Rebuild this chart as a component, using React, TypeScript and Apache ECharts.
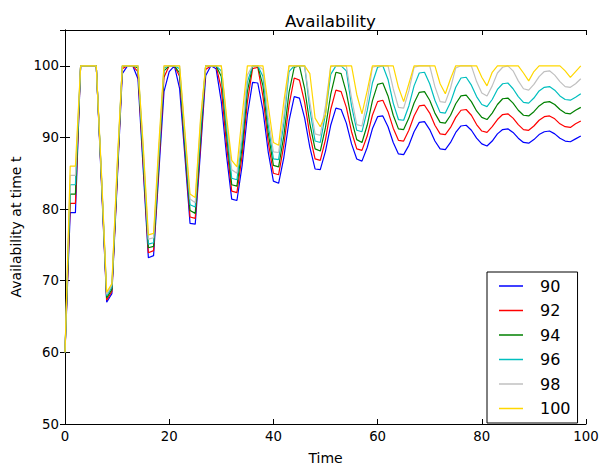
import React, { useEffect, useRef } from "react";
import * as echarts from "echarts";

const seriesNames = ["90", "92", "94", "96", "98", "100"];
const seriesColors = ["#0000ff", "#ff0000", "#008000", "#00bfbf", "#c0c0c0", "#ffd700"];
const xTicks = [0, 20, 40, 60, 80, 100];
const yTicks = [50, 60, 70, 80, 90, 100];

const time = Array.from({ length: 100 }, (_, i) => i);

const s90 = [
  60, 79.5, 79.5, 100, 100, 100, 100, 83.5, 67.0, 68.2,
  83.5, 98.9, 100, 100, 98.2, 85.7, 73.2, 73.5, 85.0, 96.4,
  99.2, 100, 96.8, 87.5, 78.0, 77.9, 88.0, 98.6, 100, 99.6,
  95.0, 87.5, 81.4, 81.2, 86.1, 93.1, 97.7, 97.6, 93.8, 88.0,
  83.9, 83.6, 87.2, 92.3, 95.7, 95.5, 92.7, 88.6, 85.6, 85.5,
  88.1, 91.7, 94.1, 93.9, 92.0, 89.1, 87.0, 86.7, 88.6, 91.2,
  92.9, 93.0, 91.5, 89.3, 87.7, 87.6, 88.9, 90.8, 92.1, 92.2,
  91.1, 89.5, 88.4, 88.3, 89.3, 90.7, 91.6, 91.7, 91.0, 89.9,
  89.1, 88.8, 89.5, 90.5, 91.1, 91.2, 90.7, 89.9, 89.3, 89.2,
  89.7, 90.4, 90.8, 90.9, 90.5, 89.9, 89.5, 89.4, 89.8, 90.2,
];

const s92 = [
  60, 80.8, 80.8, 100, 100, 100, 100, 84.0, 67.3, 68.5,
  84.0, 99.6, 100, 100, 99.2, 86.5, 73.9, 74.2, 86.0, 98.4,
  100, 100, 98.5, 88.5, 78.9, 78.7, 89.0, 99.5, 100, 100,
  96.8, 89.0, 82.5, 82.3, 87.5, 94.9, 99.6, 99.8, 95.7, 89.4,
  85.0, 84.8, 88.9, 94.5, 98.3, 98.0, 94.9, 90.3, 87.0, 86.8,
  89.7, 93.9, 96.6, 96.4, 94.2, 90.8, 88.4, 88.2, 90.2, 93.1,
  95.0, 95.2, 93.6, 91.3, 89.6, 89.5, 91.0, 93.0, 94.4, 94.5,
  93.4, 91.7, 90.5, 90.4, 91.4, 92.8, 93.8, 93.9, 93.1, 91.8,
  90.9, 90.7, 91.5, 92.5, 93.2, 93.3, 92.7, 91.8, 91.1, 91.0,
  91.6, 92.4, 92.9, 93.0, 92.6, 91.9, 91.5, 91.4, 91.9, 92.3,
];

const s94 = [
  60, 82.1, 82.1, 100, 100, 100, 100, 84.3, 67.6, 68.8,
  84.5, 99.9, 100, 100, 99.7, 87.2, 74.6, 74.8, 86.8, 99.3,
  100, 100, 99.0, 89.0, 79.8, 79.4, 90.0, 100, 100, 100,
  98.5, 90.5, 83.4, 83.2, 88.7, 96.4, 100, 100, 97.2, 90.7,
  86.1, 85.9, 90.2, 96.3, 99.8, 100, 96.8, 91.9, 88.4, 88.1,
  91.4, 96.0, 99.1, 98.9, 96.3, 92.5, 89.7, 89.3, 91.7, 95.1,
  97.4, 97.6, 95.8, 93.1, 91.2, 91.1, 92.7, 94.8, 96.3, 96.4,
  95.2, 93.4, 92.1, 92.0, 93.1, 94.7, 95.8, 95.9, 95.0, 93.7,
  92.8, 92.5, 93.4, 94.6, 95.4, 95.5, 94.8, 93.8, 93.1, 93.0,
  93.6, 94.4, 94.9, 95.0, 94.6, 93.9, 93.4, 93.3, 93.8, 94.2,
];

const s96 = [
  60, 83.4, 83.4, 100, 100, 100, 100, 84.5, 67.9, 69.1,
  85.0, 100, 100, 100, 100, 87.8, 75.1, 75.3, 87.5, 99.7,
  100, 100, 99.6, 90.0, 80.6, 80.3, 91.0, 100, 100, 100,
  99.3, 91.5, 84.3, 84.1, 89.8, 97.7, 100, 100, 98.5, 91.8,
  87.0, 86.9, 92.0, 99.2, 100, 100, 100, 93.9, 89.5, 89.3,
  93.3, 98.8, 100, 100, 99.3, 94.4, 91.0, 90.8, 93.7, 97.6,
  99.8, 100, 98.1, 94.8, 92.5, 92.4, 94.4, 97.2, 99.0, 99.1,
  97.5, 95.2, 93.5, 93.4, 94.9, 97.0, 98.3, 98.4, 97.3, 95.7,
  94.6, 94.3, 95.3, 96.7, 97.5, 97.6, 96.8, 95.7, 94.9, 94.8,
  95.5, 96.5, 97.0, 97.1, 96.6, 95.8, 95.3, 95.2, 95.6, 96.1,
];

const s98 = [
  60, 84.7, 84.7, 100, 100, 100, 100, 84.7, 68.1, 69.4,
  85.5, 100, 100, 100, 100, 88.5, 75.8, 76.0, 88.0, 100,
  100, 100, 100, 90.5, 81.4, 80.9, 92.0, 100, 100, 100,
  100, 92.5, 85.5, 85.0, 90.7, 98.7, 100, 100, 99.5, 92.8,
  88.0, 87.9, 93.0, 100, 100, 100, 100, 94.9, 90.5, 90.3,
  94.4, 99.9, 100, 100, 100, 95.5, 91.8, 91.6, 95.0, 99.8,
  100, 100, 100, 96.8, 94.2, 94.1, 96.5, 99.8, 100, 100,
  100, 97.1, 95.0, 94.9, 96.9, 99.7, 100, 100, 100, 97.8,
  96.2, 95.8, 97.2, 99.0, 99.8, 100, 99.3, 97.9, 96.8, 96.6,
  97.4, 98.5, 99.2, 99.3, 98.7, 97.8, 97.1, 97.0, 97.5, 98.2,
];

const s100 = [
  60, 86.0, 86.0, 100, 100, 100, 100, 85.0, 68.4, 69.6,
  86.0, 100, 100, 100, 100, 89.0, 76.4, 76.6, 89.0, 100,
  100, 100, 100, 91.0, 82.1, 81.6, 92.5, 100, 100, 100,
  100, 93.0, 86.8, 85.9, 93.0, 100, 100, 100, 100, 94.5,
  89.3, 88.9, 95.0, 100, 100, 100, 100, 98.9, 92.7, 91.5,
  93.2, 100, 100, 100, 100, 100, 96.0, 93.3, 96.5, 100,
  100, 100, 100, 100, 97.0, 95.0, 97.5, 100, 100, 100,
  100, 100, 97.5, 96.1, 98.2, 100, 100, 100, 100, 100,
  98.4, 97.2, 99.1, 100, 100, 100, 100, 100, 99.0, 97.9,
  99.2, 100, 100, 100, 100, 100, 99.3, 98.4, 99.2, 100,
];

const allSeries = [s90, s92, s94, s96, s98, s100];

const FONT = "DejaVu Sans";

export default function App() {
  const ref = useRef<HTMLDivElement>(null);

  useEffect(() => {
    if (!ref.current) return;
    const chart = echarts.init(ref.current, undefined, { renderer: "svg" });

    const baseAxisLine = { show: true, lineStyle: { color: "#000", width: 1 } };
    const baseTick = { show: true, inside: true, length: 5, lineStyle: { color: "#000", width: 1 } };

    const option = {
      animation: false,
      backgroundColor: "#fff",
      title: {
        text: "Availability",
        left: 325.5,
        textAlign: "center",
        top: 7,
        textStyle: { fontFamily: FONT, fontSize: 16.7, fontWeight: "normal", color: "#000" },
      },
      grid: { left: 65, top: 30, right: 25, bottom: 38.5, containLabel: false },
      legend: {
        orient: "vertical",
        left: 487,
        top: 272,
        padding: [6, 7, 6.5, 12],
        itemGap: 8.5,
        itemWidth: 24,
        itemHeight: 1.5,
        icon: "rect",
        backgroundColor: "#fff",
        borderColor: "#000",
        borderWidth: 1,
        borderRadius: 0,
        data: seriesNames,
        textStyle: {
          fontFamily: FONT,
          fontSize: 16,
          lineHeight: 16,
          color: "#000",
          padding: [0, 0, 0, 12],
        },
      },
      xAxis: [
        {
          type: "value",
          min: xTicks[0],
          max: xTicks[xTicks.length - 1],
          interval: 20,
          position: "bottom",
          name: "Time",
          nameLocation: "middle",
          nameGap: 27,
          nameTextStyle: { fontFamily: FONT, fontSize: 14, color: "#000" },
          axisLine: baseAxisLine,
          axisTick: baseTick,
          axisLabel: { fontFamily: FONT, fontSize: 13.3, color: "#000", margin: 6 },
          splitLine: { show: false },
        },
        {
          type: "value",
          min: xTicks[0],
          max: xTicks[xTicks.length - 1],
          interval: 20,
          position: "top",
          axisLine: baseAxisLine,
          axisTick: baseTick,
          axisLabel: { show: false },
          splitLine: { show: false },
        },
      ],
      yAxis: [
        {
          type: "value",
          min: yTicks[0],
          max: 105,
          interval: 10,
          position: "left",
          name: "Availability at time t",
          nameLocation: "middle",
          nameGap: 32,
          nameTextStyle: { fontFamily: FONT, fontSize: 14, color: "#000" },
          axisLine: baseAxisLine,
          axisTick: baseTick,
          axisLabel: {
            fontFamily: FONT,
            fontSize: 13.3,
            color: "#000",
            margin: 6,
            formatter: (v: number) => (yTicks.indexOf(v) >= 0 ? String(v) : ""),
          },
          splitLine: { show: false },
        },
        {
          type: "value",
          min: yTicks[0],
          max: 105,
          interval: 10,
          position: "right",
          axisLine: baseAxisLine,
          axisTick: baseTick,
          axisLabel: { show: false },
          splitLine: { show: false },
        },
      ],
      series: seriesNames.map((name, i) => ({
        name,
        type: "line",
        xAxisIndex: 0,
        yAxisIndex: 0,
        showSymbol: false,
        symbol: "none",
        color: seriesColors[i],
        lineStyle: { color: seriesColors[i], width: 1.2 },
        data: time.map((t, j) => [t, allSeries[i][j]]),
      })),
    };

    chart.setOption(option as any);
    return () => chart.dispose();
  }, []);

  return (
    <div
      ref={ref}
      style={{ position: "absolute", left: 0, top: 0, width: 611, height: 470 }}
    />
  );
}
